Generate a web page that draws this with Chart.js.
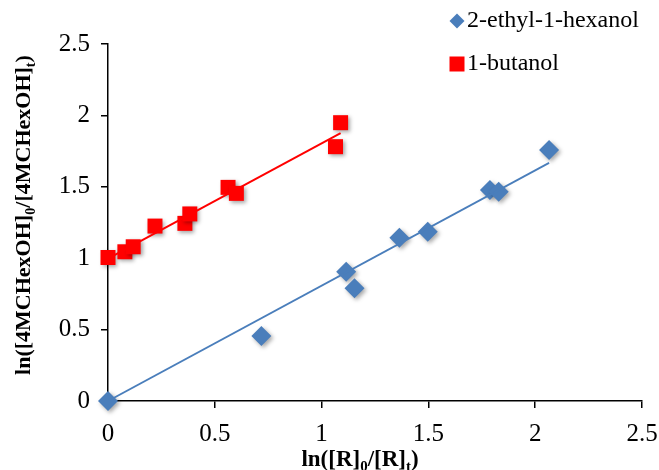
<!DOCTYPE html>
<html><head><meta charset="utf-8">
<script src="https://cdn.jsdelivr.net/npm/chart.js@4.4.1/dist/chart.umd.min.js"></script>
<style>html,body{margin:0;padding:0;background:#fff}#wrap{width:659px;height:470px}</style>
</head><body><div id="wrap"><canvas id="c" width="659" height="470"></canvas></div>
<script>
const seriesNames = ['2-ethyl-1-hexanol', '1-butanol'];
const hexanolX = [0, 0.718, 1.115, 1.154, 1.364, 1.497, 1.788, 1.829, 2.065];
const hexanolY = [0, 0.455, 0.905, 0.789, 1.144, 1.186, 1.478, 1.466, 1.758];
const butanolX = [0, 0.079, 0.118, 0.22, 0.36, 0.383, 0.562, 0.601, 1.065, 1.089];
const butanolY = [1.005, 1.045, 1.08, 1.225, 1.244, 1.31, 1.496, 1.454, 1.781, 1.949];
const tickValues = [0, 0.5, 1, 1.5, 2, 2.5];
const xTitle = [['ln([R]', 0], ['0', 1], ['/[R]', 0], ['t', 1], [')', 0]];
const yTitle = [['ln([4MCHexOH]', 0], ['0', 1], ['/[4MCHexOH]', 0], ['t', 1], [')', 0]];

const BLUE = '#4A7EBB', RED = '#FF0000';
const pts = (xs, ys) => xs.map((x, i) => ({x: x, y: ys[i]}));
// Excel-style linear trendlines: hexanol through origin, butanol ordinary least squares
function fitOrigin(xs, ys) {
  let sxy = 0, sxx = 0;
  xs.forEach((x, i) => { sxy += x * ys[i]; sxx += x * x; });
  const m = sxy / sxx;
  const lo = Math.min(...xs), hi = Math.max(...xs);
  return [{x: lo, y: m * lo}, {x: hi, y: m * hi}];
}
function fitOLS(xs, ys) {
  const n = xs.length;
  const mx = xs.reduce((a, b) => a + b, 0) / n, my = ys.reduce((a, b) => a + b, 0) / n;
  let sxy = 0, sxx = 0;
  xs.forEach((x, i) => { sxy += (x - mx) * (ys[i] - my); sxx += (x - mx) * (x - mx); });
  const m = sxy / sxx, b = my - m * mx;
  const lo = Math.min(...xs), hi = Math.max(...xs);
  return [{x: lo, y: m * lo + b}, {x: hi, y: m * hi + b}];
}

const FONT = '"Liberation Serif", "Times New Roman", serif';

const shadowPlugin = {
  id: 'shadow',
  beforeDatasetDraw(chart, args) {
    const ds = chart.data.datasets[args.index];
    if (ds.isMarker) {
      const ctx = chart.ctx; ctx.save();
      ctx.shadowColor = 'rgba(0,0,0,0.35)'; ctx.shadowBlur = 4;
      ctx.shadowOffsetX = 2; ctx.shadowOffsetY = 2;
    }
  },
  afterDatasetDraw(chart, args) {
    const ds = chart.data.datasets[args.index];
    if (ds.isMarker) chart.ctx.restore();
  }
};

function segWidth(ctx, segs, size) {
  let w = 0;
  segs.forEach(s => { ctx.font = 'bold ' + (s[1] ? size * 0.65 : size) + 'px ' + FONT; w += ctx.measureText(s[0]).width; });
  return w;
}
function drawSegs(ctx, segs, size, x0, y0) {
  let x = x0;
  ctx.textBaseline = 'alphabetic'; ctx.textAlign = 'left'; ctx.fillStyle = '#000';
  segs.forEach(s => {
    ctx.font = 'bold ' + (s[1] ? size * 0.65 : size) + 'px ' + FONT;
    ctx.fillText(s[0], x, y0 + (s[1] ? size * 0.22 : 0));
    x += ctx.measureText(s[0]).width;
  });
}

const decorPlugin = {
  id: 'decor',
  afterDraw(chart) {
    const ctx = chart.ctx;
    // x title
    ctx.save();
    let w = segWidth(ctx, xTitle, 23);
    drawSegs(ctx, xTitle, 23, 360 - w / 2, 466);
    ctx.restore();
    // y title
    ctx.save();
    w = segWidth(ctx, yTitle, 22);
    ctx.translate(30, 215);
    ctx.rotate(-Math.PI / 2);
    drawSegs(ctx, yTitle, 22, -w / 2, 0);
    ctx.restore();
    // legend
    ctx.save();
    ctx.fillStyle = BLUE;
    ctx.beginPath();
    ctx.moveTo(457, 13.5); ctx.lineTo(464.5, 21); ctx.lineTo(457, 28.5); ctx.lineTo(449.5, 21); ctx.closePath();
    ctx.fill();
    ctx.fillStyle = RED;
    ctx.fillRect(449.5, 56.5, 15, 15);
    ctx.fillStyle = '#000';
    ctx.font = '24px ' + FONT;
    ctx.textBaseline = 'middle'; ctx.textAlign = 'left';
    ctx.fillText(seriesNames[0], 467, 21);
    ctx.fillText(seriesNames[1], 467, 64);
    ctx.restore();
  }
};

const axisCommon = {
  type: 'linear', min: 0, max: 2.5,
  afterBuildTicks(scale) { scale.ticks = tickValues.map(v => ({value: v})); },
  grid: {display: true, drawOnChartArea: false, drawTicks: true, tickLength: 7, color: '#000', lineWidth: 1.5},
  border: {display: true, color: '#000', width: 1.5},
  ticks: {color: '#000', font: {family: FONT, size: 25}, padding: 11,
    callback: v => String(v)},
  title: {display: false}
};

new Chart(document.getElementById('c'), {
  type: 'scatter',
  data: {
    datasets: [
      {label: seriesNames[0], data: pts(hexanolX, hexanolY), isMarker: true, order: 2, clip: false,
        pointStyle: 'rectRot', pointRadius: 10, pointHoverRadius: 10,
        backgroundColor: BLUE, borderColor: BLUE, borderWidth: 0, showLine: false},
      {label: seriesNames[1], data: pts(butanolX, butanolY), isMarker: true, order: 2, clip: false,
        pointStyle: 'rect', pointRadius: 10.6, pointHoverRadius: 10.6,
        backgroundColor: RED, borderColor: RED, borderWidth: 0, showLine: false},
      {label: 'trend1', data: fitOrigin(hexanolX, hexanolY), order: 1, showLine: true,
        pointRadius: 0, borderColor: BLUE, borderWidth: 1.8, fill: false},
      {label: 'trend2', data: fitOLS(butanolX, butanolY), order: 1, showLine: true,
        pointRadius: 0, borderColor: RED, borderWidth: 2, fill: false}
    ]
  },
  options: {
    responsive: false, animation: false, devicePixelRatio: 1,
    layout: {padding: {top: 44, right: 17, left: 0, bottom: 0}},
    plugins: {legend: {display: false}, tooltip: {enabled: false}},
    scales: {
      x: Object.assign({}, axisCommon, {position: 'bottom',
        afterFit(s) { s.height = 69; s.paddingLeft = 0; s.paddingRight = 0; }}),
      y: Object.assign({}, axisCommon, {position: 'left',
        afterFit(s) { s.width = 108; s.paddingTop = 0; s.paddingBottom = 0; }})
    }
  },
  plugins: [shadowPlugin, decorPlugin]
});
</script></body></html>
